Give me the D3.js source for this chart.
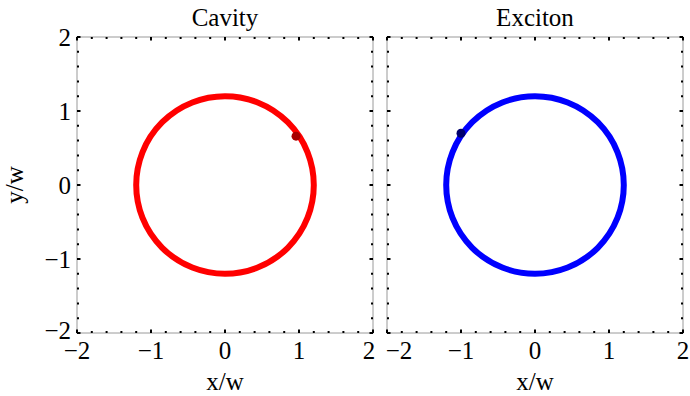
<!DOCTYPE html>
<html>
<head>
<meta charset="utf-8">
<script src="https://cdn.jsdelivr.net/npm/d3@7"></script>
<style>
  body { margin: 0; background: #fff; }
  text { font-family: "Liberation Serif", "Times New Roman", serif; fill: #000; }
</style>
</head>
<body>
<svg width="690" height="396"></svg>
<script>
// panel data
var panelNames = ["Cavity", "Exciton"];
var ringColors = ["#ff0000", "#0000ff"];
var markerColors = ["#a80000", "#00006e"];
var ringCenter = [[0, 0], [0, 0]];
var ringRadius = [1.2, 1.2];
var markerX = [0.96, -1.0];
var markerY = [0.66, 0.70];
var majorTicks = [-2, -1, 0, 1, 2];
var minorTicks = [-1.8, -1.6, -1.4, -1.2, -0.8, -0.6, -0.4, -0.2, 0.2, 0.4, 0.6, 0.8, 1.2, 1.4, 1.6, 1.8];

var svg = d3.select("svg");
var size = 296,
    plotTop = 37,
    lefts = [77, 387],
    fs = "25px";

var y = d3.scaleLinear().domain([-2, 2]).range([plotTop + size, plotTop]);

function fmt(d) { return d < 0 ? "\u2212" + Math.abs(d) : String(d); }

panelNames.forEach(function(name, i) {
  var x = d3.scaleLinear().domain([-2, 2]).range([lefts[i], lefts[i] + size]);
  var g = svg.append("g");

  // frame
  g.append("rect")
    .attr("x", x(-2)).attr("y", y(2))
    .attr("width", x(2) - x(-2)).attr("height", y(-2) - y(2))
    .attr("fill", "none").attr("stroke", "#9a9a9a").attr("stroke-width", 1);

  // ticks on all four sides (inward)
  function tick(v, len, w) {
    g.append("line").attr("x1", x(v)).attr("x2", x(v)).attr("y1", y(-2)).attr("y2", y(-2) - len)
      .attr("stroke", "#000").attr("stroke-width", w);
    g.append("line").attr("x1", x(v)).attr("x2", x(v)).attr("y1", y(2)).attr("y2", y(2) + len)
      .attr("stroke", "#000").attr("stroke-width", w);
    g.append("line").attr("y1", y(v)).attr("y2", y(v)).attr("x1", x(-2)).attr("x2", x(-2) + len)
      .attr("stroke", "#000").attr("stroke-width", w);
    g.append("line").attr("y1", y(v)).attr("y2", y(v)).attr("x1", x(2)).attr("x2", x(2) - len)
      .attr("stroke", "#000").attr("stroke-width", w);
  }
  minorTicks.forEach(function(v) { tick(v, 2, 2); });
  majorTicks.forEach(function(v) { tick(v, 3.5, 2); });

  // ring
  g.append("ellipse")
    .attr("cx", x(ringCenter[i][0])).attr("cy", y(ringCenter[i][1]))
    .attr("rx", x(ringRadius[i]) - x(0)).attr("ry", y(0) - y(ringRadius[i]))
    .attr("fill", "none").attr("stroke", ringColors[i]).attr("stroke-width", 6);

  // current position marker
  g.append("circle")
    .attr("cx", x(markerX[i])).attr("cy", y(markerY[i]))
    .attr("r", 4.5).attr("fill", markerColors[i]);

  // x tick labels (end labels nudged apart where the panels meet)
  g.selectAll(".xl").data(majorTicks).enter().append("text")
    .attr("x", function(d) {
      var nudge = 0;
      if (i == 0 && d == 2) nudge = -4;
      if (i == 1 && d == -2) nudge = 12;
      return x(d) + nudge;
    })
    .attr("y", y(-2) + 26)
    .attr("text-anchor", "middle")
    .attr("font-size", fs)
    .text(fmt);

  // title and x label
  g.append("text").attr("x", x(0)).attr("y", 26)
    .attr("text-anchor", "middle").attr("font-size", fs).text(name);
  g.append("text").attr("x", x(0)).attr("y", 390)
    .attr("text-anchor", "middle").attr("font-size", fs).text("x/w");
});

// y tick labels (left panel only); bottom one lifted off the x labels
svg.selectAll(".yl").data(majorTicks).enter().append("text")
  .attr("x", 71)
  .attr("y", function(d) { return y(d) + (d == -2 ? 6 : 8.5); })
  .attr("text-anchor", "end")
  .attr("font-size", fs)
  .text(fmt);

svg.append("text")
  .attr("transform", "translate(23," + y(0) + ") rotate(-90)")
  .attr("text-anchor", "middle")
  .attr("font-size", fs)
  .text("y/w");
</script>
</body>
</html>
